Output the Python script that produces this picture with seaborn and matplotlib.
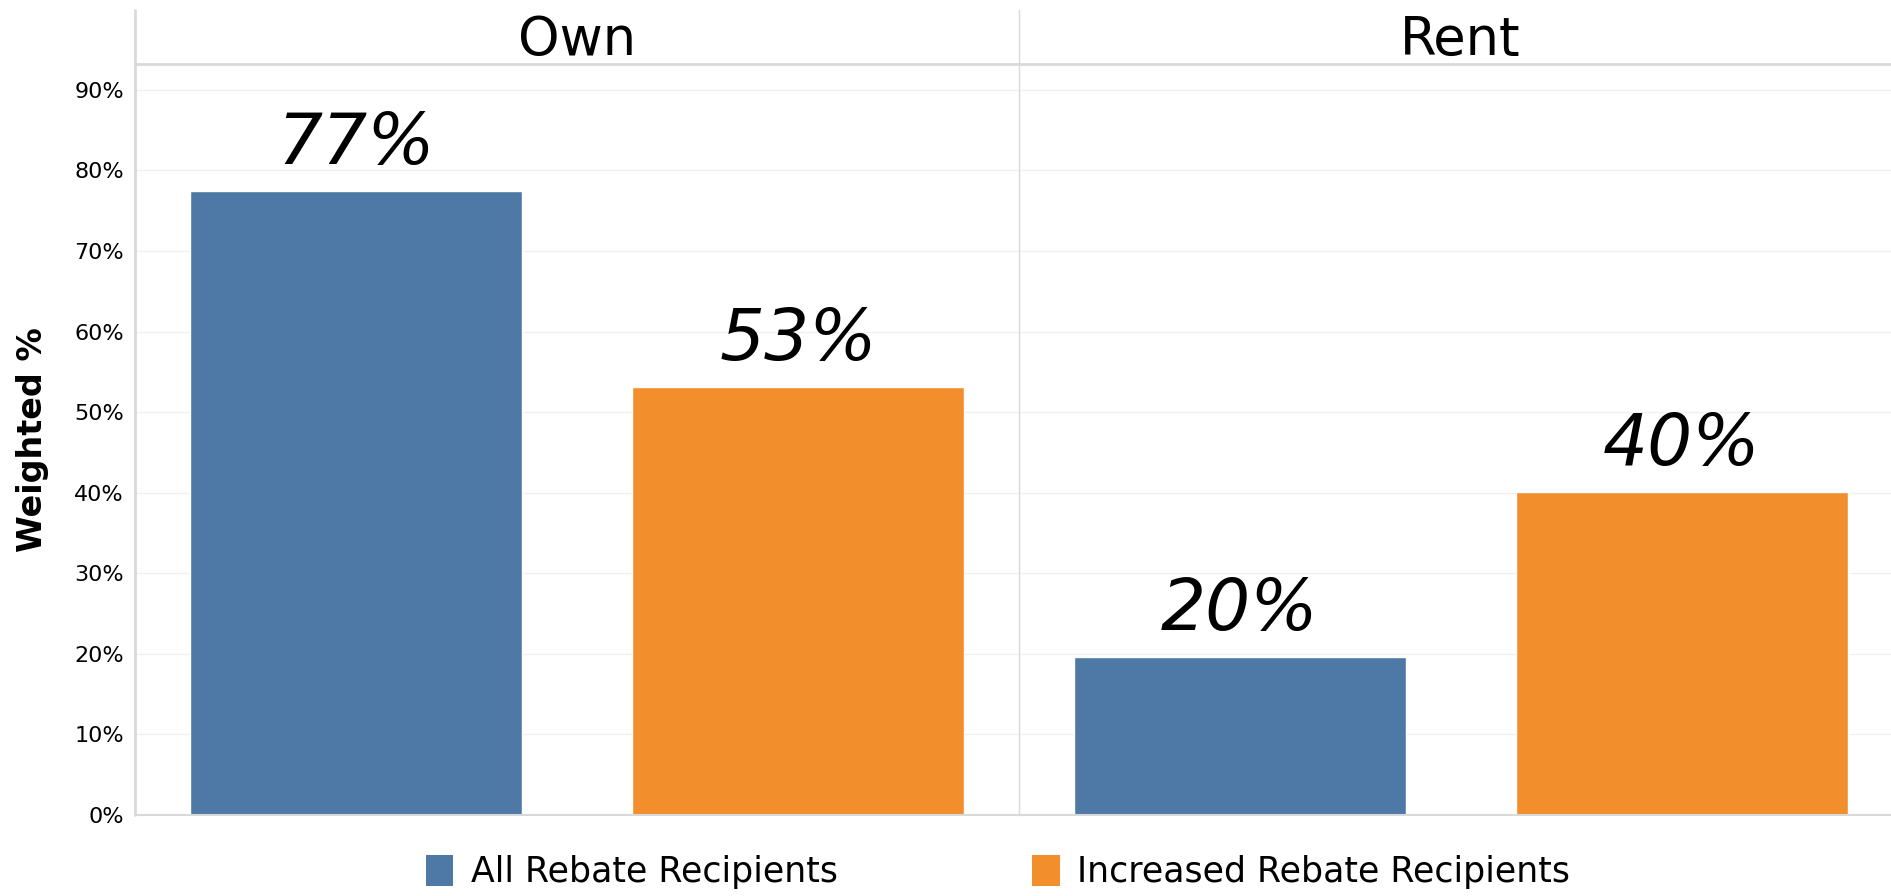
import matplotlib
matplotlib.use("Agg")
import matplotlib.pyplot as plt
import seaborn as sns
import pandas as pd
from matplotlib.patches import Patch
from matplotlib.lines import Line2D

# data
tenure = ["Own", "Rent"]
groups = ["All Rebate Recipients", "Increased Rebate Recipients"]
own_vals = [77.4, 53.1]
rent_vals = [19.6, 40.1]
labels_own = ["77%", "53%"]
labels_rent = ["20%", "40%"]
yticks = [0, 10, 20, 30, 40, 50, 60, 70, 80, 90]

colors = {"All Rebate Recipients": "#4e79a7", "Increased Rebate Recipients": "#f28e2b"}

W, H = 1891, 896
sns.set_style("white")
plt.rcParams["font.family"] = ["DejaVu Sans"]
plt.rcParams["text.color"] = "black"
plt.rcParams["axes.labelcolor"] = "black"
plt.rcParams["ytick.color"] = "black"

fig = plt.figure(figsize=(W / 100, H / 100), dpi=100)

def fx(px):
    return px / W

def fy(py):
    return 1 - py / H

top, bottom = 64, 815
ax_own = fig.add_axes([fx(135), fy(bottom), fx(1019 - 135), (bottom - top) / H])
ax_rent = fig.add_axes([fx(1019), fy(bottom), fx(1891 - 1019), (bottom - top) / H])

panels = [(ax_own, own_vals, labels_own, (-0.5, 1.5)),
          (ax_rent, rent_vals, labels_rent, (-0.5, -0.5 + 872 / 442))]

for ax, vals, labs, xl in panels:
    df = pd.DataFrame({"group": groups, "value": vals})
    sns.barplot(data=df, x="group", y="value", hue="group", palette=colors,
                width=0.75, legend=False, ax=ax, saturation=1)
    ax.set_xlim(*xl)
    ax.set_ylim(0, 93.2)
    ax.set_yticks(yticks)
    ax.grid(axis="y", color="#f0f0f0", linewidth=1)
    ax.set_axisbelow(True)
    ax.set_xlabel("")
    ax.set_ylabel("")
    ax.set_xticks([])
    for s in ["left", "right"]:
        ax.spines[s].set_visible(False)
    ax.spines["top"].set_color("#d9d9d9")
    ax.spines["top"].set_linewidth(2)
    ax.spines["bottom"].set_color("#d9d9d9")
    ax.spines["bottom"].set_linewidth(1.5)
    for i, (v, t) in enumerate(zip(vals, labs)):
        ax.text(i, v + 1.5, t, ha="center", va="bottom", fontsize=51,
                style="italic", color="black")

ax_own.set_yticklabels([f"{t}%" for t in yticks], fontsize=16)
ax_own.tick_params(axis="y", length=0, pad=8)
ax_rent.set_yticklabels([])
ax_rent.tick_params(axis="y", length=0)
ax_own.set_ylabel("Weighted %", fontsize=24, fontweight="bold", labelpad=18)

# panel headers and frame lines
fig.text(fx(577), fy(40), "Own", ha="center", va="center", fontsize=38)
fig.text(fx(1460), fy(40), "Rent", ha="center", va="center", fontsize=38)
fig.add_artist(Line2D([fx(135), fx(135)], [fy(10), fy(bottom)], color="#d9d9d9", lw=2))
fig.add_artist(Line2D([fx(1019), fx(1019)], [fy(10), fy(bottom)], color="#d9d9d9", lw=1))

handles = [Patch(facecolor=colors[g], edgecolor="none", label=g) for g in groups]
fig.legend(handles=handles, loc="center", bbox_to_anchor=(fx(998), fy(872)),
           ncol=2, frameon=False, fontsize=25, handlelength=0.8, handleheight=1.0,
           handletextpad=0.5, columnspacing=5.6)

fig.savefig("out.png", dpi=100)
